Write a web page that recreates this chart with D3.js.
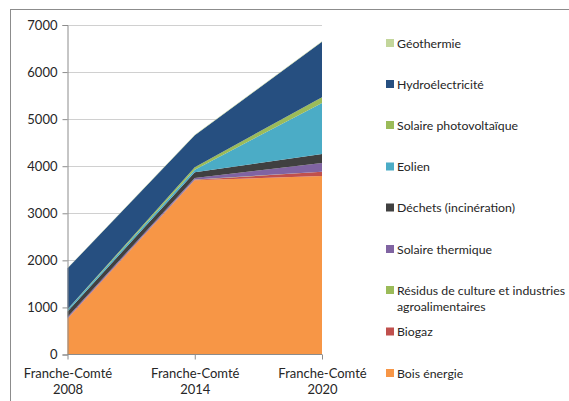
<!DOCTYPE html>
<html>
<head>
<meta charset="utf-8">
<script src="https://cdn.jsdelivr.net/npm/d3@7"></script>
<style>
  html, body { margin: 0; padding: 0; background: #fff; }
  svg { display: block; font-family: Lato, "Open Sans", sans-serif; }
</style>
</head>
<body>
<svg id="chart" width="569" height="401"></svg>
<script>
// Production d'énergies renouvelables, Franche-Comté (GWh)
const years = ["2008", "2014", "2020"];
const categoryLabel = "Franche-Comté";

// Series, from the bottom of the stack upwards
const boisEnergie       = [760, 3700, 3790];
const biogaz            = [10, 15, 90];
const residus           = [0, 5, 5];
const solaireThermique  = [25, 30, 185];
const dechets           = [120, 120, 190];
const eolien            = [40, 55, 1085];
const photovoltaique    = [5, 55, 120];
const hydroelectricite  = [870, 680, 1180];
const geothermie        = [5, 10, 10];

const seriesNames = [
  "Bois énergie", "Biogaz", "Résidus de culture et industries agroalimentaires",
  "Solaire thermique", "Déchets (incinération)", "Eolien",
  "Solaire photovoltaïque", "Hydroélectricité", "Géothermie"
];
const seriesValues = [
  boisEnergie, biogaz, residus, solaireThermique, dechets,
  eolien, photovoltaique, hydroelectricite, geothermie
];
const seriesColors = [
  "#F79646", "#C0504D", "#9BBB59", "#8064A2", "#404040",
  "#4BACC6", "#9BBB59", "#264F80", "#C3D69B"
];
const yTicks = [0, 1000, 2000, 3000, 4000, 5000, 6000, 7000];

// Rows for d3.stack
const rows = years.map((yr, i) => {
  const r = { year: yr };
  seriesNames.forEach((n, k) => { r[n] = seriesValues[k][i]; });
  return r;
});

const svg = d3.select("#chart");
const textColor = "#262626";
const fontFamily = "Lato, 'Open Sans', sans-serif";

// Chart frame
svg.append("rect")
  .attr("x", 10.5).attr("y", 9.5)
  .attr("width", 570).attr("height", 400)
  .attr("fill", "#fff").attr("stroke", "#8c8c8c").attr("stroke-width", 1);

const plotLeft = 67.5, plotRight = 322, plotTop = 25, plotBottom = 354.5;

const x = d3.scalePoint().domain(years).range([plotLeft, plotRight]);
const y = d3.scaleLinear().domain([0, 7000]).range([plotBottom, plotTop]);

// Horizontal gridlines
svg.append("g")
  .selectAll("line")
  .data(yTicks.filter(d => d > 0))
  .join("line")
  .attr("x1", plotLeft).attr("x2", plotRight)
  .attr("y1", d => Math.round(y(d)) + 0.5).attr("y2", d => Math.round(y(d)) + 0.5)
  .attr("stroke", "#d0d0d0").attr("stroke-width", 1);

// Stacked areas
const stack = d3.stack().keys(seriesNames);
const layers = stack(rows);
const area = d3.area()
  .x(d => x(d.data.year))
  .y0(d => y(d[0]))
  .y1(d => y(d[1]));

svg.append("g")
  .selectAll("path")
  .data(layers)
  .join("path")
  .attr("d", area)
  .attr("fill", (d, i) => seriesColors[i]);

// Y axis
const yAxis = d3.axisLeft(y).tickValues(yTicks).tickSize(5).tickPadding(5).tickFormat(d3.format("d"));
const gy = svg.append("g").attr("transform", `translate(${plotLeft},0)`).call(yAxis);
gy.select(".domain").attr("stroke", "#8c8c8c");
gy.selectAll(".tick line").attr("stroke", "#8c8c8c");
gy.selectAll(".tick text").attr("fill", textColor).style("font-size", "13px")
  .style("font-family", fontFamily);

// X axis
const xAxis = d3.axisBottom(x).tickSize(5).tickFormat(() => "");
const gx = svg.append("g").attr("transform", `translate(0,${plotBottom})`).call(xAxis);
gx.select(".domain").attr("stroke", "#8c8c8c").attr("d", `M${plotLeft},0H${plotRight}`);
gx.selectAll(".tick line").attr("stroke", "#8c8c8c");
gx.selectAll(".tick").each(function(d) {
  const t = d3.select(this).append("text")
    .attr("fill", textColor).attr("text-anchor", "middle")
    .style("font-size", "13px").style("font-family", fontFamily);
  t.append("tspan").attr("x", 0).attr("y", 23).text(categoryLabel);
  t.append("tspan").attr("x", 0).attr("y", 39).text(d);
});

// Legend (top of the stack first)
const legendRows = [
  { i: 8, y: 43 }, { i: 7, y: 84 }, { i: 6, y: 125 }, { i: 5, y: 166.5 },
  { i: 4, y: 207.5 }, { i: 3, y: 249 }, { i: 2, y: 290 }, { i: 1, y: 331.5 },
  { i: 0, y: 373 }
];
const legend = svg.append("g");
legendRows.forEach(r => {
  const g = legend.append("g");
  g.append("rect")
    .attr("x", 386).attr("y", r.y - 4)
    .attr("width", 8).attr("height", 8)
    .attr("fill", seriesColors[r.i]);
  const label = seriesNames[r.i];
  const text = g.append("text")
    .attr("x", 397).attr("y", r.y + 4.5)
    .attr("fill", textColor)
    .style("font-size", "12.3px")
    .style("font-family", fontFamily);
  if (r.i === 2) {
    text.append("tspan").attr("x", 397).text("Résidus de culture et industries");
    text.append("tspan").attr("x", 397).attr("dy", 16).text("agroalimentaires");
  } else {
    text.text(label);
  }
});
</script>
</body>
</html>
